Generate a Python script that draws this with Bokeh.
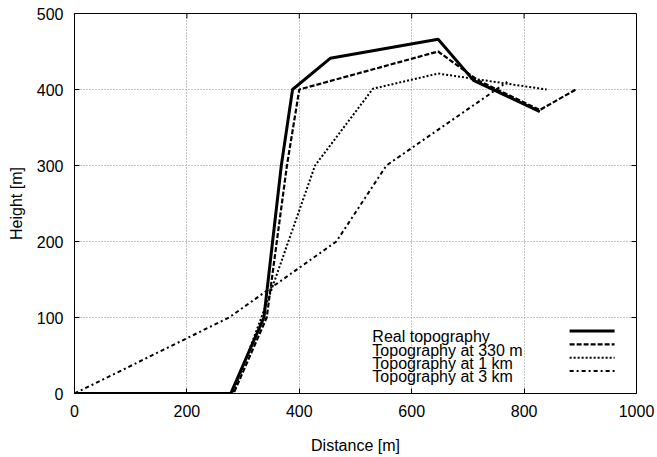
from bokeh.plotting import figure
from bokeh.models import FixedTicker, Label, Range1d
from bokeh.embed import file_html
from bokeh.resources import INLINE

# ---- data ----
x_ticks = [0, 200, 400, 600, 800, 1000]
y_ticks = [0, 100, 200, 300, 400, 500]

real_x = [0, 278, 337, 368, 388, 455, 647, 710, 828]
real_y = [0, 0, 100, 300, 400, 441, 466, 412, 371]

t330_x = [0, 283, 342, 378, 400, 647, 718, 828, 892]
t330_y = [0, 0, 100, 300, 400, 450, 412, 373, 400]

t1k_x = [0, 282, 345, 428, 531, 647, 840]
t1k_y = [0, 0, 125, 300, 401, 421, 400]

t3k_x = [0, 275, 466, 555, 770]
t3k_y = [0, 100, 200, 300, 410]

series_labels = ["Real topography", "Topography at 330 m",
                 "Topography at 1 km", "Topography at 3 km"]

# ---- styles ----
FONT = "Liberation Sans"
styles = [
    dict(line_width=3, line_dash="solid"),
    dict(line_width=2.2, line_dash="5 2"),
    dict(line_width=2, line_dash="2 2"),
    dict(line_width=2, line_dash="4 3 2 3"),
]
X0, X1, Y0, Y1 = 0, 1000, 0, 500
TICK_PX = 5

p = figure(width=657, height=457, output_backend="svg", toolbar_location=None,
           x_range=Range1d(X0, X1), y_range=Range1d(Y0, Y1),
           min_border_left=74, min_border_right=21,
           min_border_top=13, min_border_bottom=64)
p.background_fill_color = "white"
p.border_fill_color = "white"
p.outline_line_color = "black"
p.outline_line_width = 1

for ax, ticks in ((p.xaxis[0], x_ticks), (p.yaxis[0], y_ticks)):
    ax.ticker = FixedTicker(ticks=ticks)
    ax.major_tick_in = TICK_PX
    ax.major_tick_out = 0
    ax.minor_tick_line_color = None
    ax.major_tick_line_color = "black"
    ax.axis_line_color = "black"
    ax.major_label_text_font = FONT
    ax.major_label_text_font_size = "16px"
    ax.major_label_text_color = "black"
    ax.axis_label_text_font = FONT
    ax.axis_label_text_font_size = "16px"
    ax.axis_label_text_font_style = "normal"
    ax.axis_label_text_color = "black"

p.xaxis.axis_label = "Distance [m]"
p.yaxis.axis_label = "Height [m]"
p.xaxis.major_label_standoff = 11
p.xaxis.axis_label_standoff = 17
p.yaxis.major_label_standoff = 11
p.yaxis.axis_label_standoff = 9

p.xgrid.ticker = FixedTicker(ticks=x_ticks)
p.ygrid.ticker = FixedTicker(ticks=y_ticks)
p.grid.grid_line_color = "#8c8c8c"
p.grid.grid_line_dash = "1 2"
p.grid.grid_line_width = 1

# mirrored inward ticks on top and right (length in px converted to data units)
frame_w = 657 - 74 - 21
frame_h = 457 - 13 - 64
dx = TICK_PX * (X1 - X0) / frame_w
dy = TICK_PX * (Y1 - Y0) / frame_h
p.segment(x0=x_ticks, y0=[Y1] * len(x_ticks), x1=x_ticks, y1=[Y1 - dy] * len(x_ticks),
          line_color="black", line_width=1)
p.segment(x0=[X1] * len(y_ticks), y0=y_ticks, x1=[X1 - dx] * len(y_ticks), y1=y_ticks,
          line_color="black", line_width=1)

series = [(real_x, real_y), (t330_x, t330_y), (t1k_x, t1k_y), (t3k_x, t3k_y)]
for (xs, ys), st in zip(series, styles):
    p.line(xs, ys, line_color="black", **st)

# ---- legend (manual: text left, sample right) ----
LEG_TEXT_X = 530
LEG_LINE_X0, LEG_LINE_X1 = 881, 961
LEG_TOP = 82.2
LEG_STEP = 17.5
BASE_OFF = 7.6
for i, (lab, st) in enumerate(zip(series_labels, styles)):
    yy = LEG_TOP - i * LEG_STEP
    p.line([LEG_LINE_X0, LEG_LINE_X1], [yy, yy], line_color="black", **st)
    p.add_layout(Label(x=LEG_TEXT_X, y=yy - BASE_OFF, text=lab,
                       text_font=FONT, text_font_size="16px",
                       text_color="black", text_baseline="alphabetic",
                       text_align="left"))

open("out.html", "w").write(file_html(p, INLINE))
